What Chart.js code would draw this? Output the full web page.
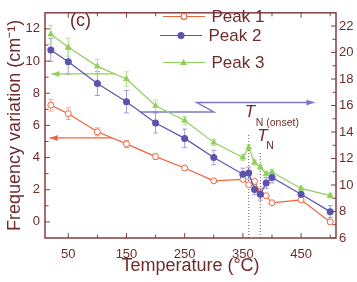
<!DOCTYPE html>
<html lang="en">
<head>
  <meta charset="UTF-8">
  <title>Frequency variation vs temperature</title>
  <script src="https://cdn.jsdelivr.net/npm/chart.js"></script>
  <style>
    body { margin: 0; background: #FFFFFF; }
    #grafico { display: block; }
  </style>
</head>
<body>
  <canvas id="grafico" width="357" height="282"></canvas>

  <script>
    // temperatures (°C)
    const temps = [20, 50, 100, 150, 200, 250, 300, 350, 360, 370, 380, 390, 400, 450, 500];
    // Peak 1 and Peak 3 on left axis, Peak 2 on right axis (cm-1)
    const peak1 = [7.26, 6.73, 5.6, 4.85, 4.06, 3.35, 2.55, 2.65, 2.31, 2.52, 1.75, 1.63, 1.19, 1.37, 0.0];
    const peak1Err = [0.36, 0.36, 0.25, 0.22, 0.18, 0.12, 0.08, 0.1, 0.1, 0.1, 0.08, 0.08, 0.08, 0.08, 0.08];
    const peak2 = [20.19, 19.3, 17.66, 16.29, 14.68, 13.52, 12.08, 10.82, 10.9, 9.67, 9.31, 10.15, 10.56, 9.31, 7.99];
    const peak2Err = [0.87, 0.94, 0.9, 0.85, 0.75, 0.7, 0.55, 0.45, 0.45, 0.4, 0.45, 0.4, 0.4, 0.35, 0.45];
    const peak3 = [11.66, 10.86, 9.67, 8.88, 7.22, 6.31, 4.93, 4.0, 4.62, 3.69, 3.4, 3.0, 3.1, 2.08, 1.63];
    const peak3Err = [0.55, 0.55, 0.45, 0.45, 0.35, 0.25, 0.2, 0.18, 0.18, 0.15, 0.15, 0.15, 0.15, 0.15, 0.15];

    // axis arrows (which axis each peak belongs to)
    const arrow1 = [[125, 5.22], [18, 5.22]];
    const arrow3 = [[130, 9.2], [21, 9.2]];
    const arrow2 = [[174, 15.52], [300, 15.52], [271, 16.22], [473, 16.22]];

    // Néel temperatures
    const tnOnset = 360;
    const tn = 380;

    const xTicks = [50, 100, 150, 200, 250, 300, 350, 400, 450, 500];
    const xTickLabels = [50, 150, 250, 350, 450];
    const yTicks = [0, 1, 2, 3, 4, 5, 6, 7, 8, 9, 10, 11, 12];
    const yTickLabels = [0, 2, 4, 6, 8, 10, 12];
    const y2Ticks = [6, 7, 8, 9, 10, 11, 12, 13, 14, 15, 16, 17, 18, 19, 20, 21, 22];
    const y2TickLabels = [6, 8, 10, 12, 14, 16, 18, 20, 22];

    const corTexto = "#6e2c2c";
    const corEixo = "#80403f";
    const laranja = "#f0643c";
    const roxo = "#5b53ad";
    const verde = "#8fd05c";

    const pts = (ys) => temps.map((t, i) => ({ x: t, y: ys[i] }));
    const seg = (arr) => arr.map(p => ({ x: p[0], y: p[1] }));

    Chart.defaults.font.family = "'Liberation Sans', Arial, sans-serif";
    Chart.defaults.color = corTexto;

    const extras = {
      id: "extras",
      beforeDatasetsDraw(chart) {
        const ctx = chart.ctx;
        const barras = [
          { idx: 2, err: peak1Err, cor: "#f6a48c" },
          { idx: 0, err: peak2Err, cor: "#a29cd6" },
          { idx: 1, err: peak3Err, cor: "#b9e29a" }
        ];
        ctx.save();
        ctx.lineWidth = 1;
        barras.forEach(b => {
          const meta = chart.getDatasetMeta(b.idx);
          const ys = chart.scales[meta.yAxisID];
          const xs = chart.scales.x;
          chart.data.datasets[b.idx].data.forEach((p, i) => {
            const x = xs.getPixelForValue(p.x);
            const y1 = ys.getPixelForValue(p.y + b.err[i]);
            const y2 = ys.getPixelForValue(p.y - b.err[i]);
            ctx.strokeStyle = b.cor;
            ctx.beginPath();
            ctx.moveTo(x, y1); ctx.lineTo(x, y2);
            ctx.moveTo(x - 2.5, y1); ctx.lineTo(x + 2.5, y1);
            ctx.moveTo(x - 2.5, y2); ctx.lineTo(x + 2.5, y2);
            ctx.stroke();
          });
        });
        ctx.restore();
      },
      afterDatasetsDraw(chart) {
        const ctx = chart.ctx;
        // arrow heads
        [3, 4, 5].forEach(idx => {
          const meta = chart.getDatasetMeta(idx);
          const n = meta.data.length;
          const a = meta.data[n - 2], b = meta.data[n - 1];
          const ang = Math.atan2(b.y - a.y, b.x - a.x);
          ctx.save();
          ctx.translate(b.x, b.y);
          ctx.rotate(ang);
          ctx.fillStyle = chart.data.datasets[idx].borderColor;
          ctx.beginPath();
          ctx.moveTo(0, 0);
          ctx.lineTo(-8, -3);
          ctx.lineTo(-8, 3);
          ctx.closePath();
          ctx.fill();
          ctx.restore();
        });
      },
      afterDraw(chart) {
        const ctx = chart.ctx;
        const { left, right, top, bottom } = chart.chartArea;
        const { x, y, y2 } = chart.scales;
        ctx.save();
        // frame
        ctx.strokeStyle = corEixo;
        ctx.lineWidth = 1.5;
        ctx.strokeRect(left, top, right - left, bottom - top);
        // inward ticks
        ctx.lineWidth = 1;
        ctx.beginPath();
        xTicks.forEach(v => {
          const px = x.getPixelForValue(v);
          const l = xTickLabels.includes(v) ? 5 : 3.5;
          ctx.moveTo(px, bottom); ctx.lineTo(px, bottom - l);
          ctx.moveTo(px, top); ctx.lineTo(px, top + l);
        });
        yTicks.forEach(v => {
          const py = y.getPixelForValue(v);
          const l = yTickLabels.includes(v) ? 5 : 3.5;
          ctx.moveTo(left, py); ctx.lineTo(left + l, py);
        });
        y2Ticks.forEach(v => {
          const py = y2.getPixelForValue(v);
          const l = y2TickLabels.includes(v) ? 5 : 3.5;
          ctx.moveTo(right, py); ctx.lineTo(right - l, py);
        });
        ctx.stroke();

        // legend
        const itens = [
          { nome: "Peak 1", cor: laranja, y: 16.5, x0: 163, x1: 205, mk: 184, tx: 211.5, tipo: "aberto" },
          { nome: "Peak 2", cor: roxo, y: 35.5, x0: 160, x1: 202, mk: 181, tx: 208.5, tipo: "cheio" },
          { nome: "Peak 3", cor: verde, y: 62.5, x0: 163, x1: 205, mk: 183.5, tx: 211.5, tipo: "tri" }
        ];
        itens.forEach(it => {
          ctx.strokeStyle = it.cor;
          ctx.lineWidth = 1.2;
          ctx.beginPath();
          ctx.moveTo(it.x0, it.y); ctx.lineTo(it.x1, it.y);
          ctx.stroke();
          ctx.fillStyle = it.cor;
          ctx.beginPath();
          if (it.tipo === "tri") {
            ctx.moveTo(it.mk, it.y - 3.5);
            ctx.lineTo(it.mk + 3.5, it.y + 2.5);
            ctx.lineTo(it.mk - 3.5, it.y + 2.5);
            ctx.closePath();
            ctx.fill();
          } else if (it.tipo === "cheio") {
            ctx.arc(it.mk, it.y, 3.5, 0, Math.PI * 2);
            ctx.fill();
          } else {
            ctx.fillStyle = "#fff";
            ctx.arc(it.mk, it.y, 3, 0, Math.PI * 2);
            ctx.fill();
            ctx.stroke();
          }
          ctx.fillStyle = corTexto;
          ctx.font = "17px 'Liberation Sans', Arial, sans-serif";
          ctx.textBaseline = "middle";
          ctx.textAlign = "left";
          ctx.fillText(it.nome, it.tx, it.y + 0.5);
        });

        // panel label
        ctx.font = "18px 'Liberation Sans', Arial, sans-serif";
        ctx.textBaseline = "middle";
        ctx.fillText("(c)", 70, 21.5);

        // T_N labels
        const xo = x.getPixelForValue(tnOnset);
        const xn = x.getPixelForValue(tn);
        ctx.textBaseline = "alphabetic";
        ctx.font = "italic 17px 'Liberation Sans', Arial, sans-serif";
        ctx.fillText("T", xo - 4, 117);
        ctx.fillText("T", xn - 3, 141);
        ctx.font = "10.5px 'Liberation Sans', Arial, sans-serif";
        ctx.fillText("N (onset)", xo + 7, 125.5);
        ctx.fillText("N", xn + 6, 149);
        ctx.restore();
      }
    };

    const ticksFixos = (lista) => (scale) => { scale.ticks = lista.map(v => ({ value: v })); };

    new Chart(document.getElementById("grafico"), {
      type: "line",
      data: {
        datasets: [
          {
            label: "Peak 2", data: pts(peak2), yAxisID: "y2",
            borderColor: roxo, backgroundColor: roxo, borderWidth: 1.2,
            pointRadius: 3.5, pointStyle: "circle", pointBorderWidth: 0
          },
          {
            label: "Peak 3", data: pts(peak3), yAxisID: "y",
            borderColor: verde, backgroundColor: verde, borderWidth: 1.2,
            pointRadius: 4, pointStyle: "triangle", pointBorderWidth: 0
          },
          {
            label: "Peak 1", data: pts(peak1), yAxisID: "y",
            borderColor: laranja, backgroundColor: "#FFFFFF", borderWidth: 1.2,
            pointRadius: 3, pointStyle: "circle", pointBorderWidth: 1
          },
          { label: "a1", data: seg(arrow1), yAxisID: "y", borderColor: laranja, borderWidth: 1.2, pointRadius: 0 },
          { label: "a2", data: seg(arrow2), yAxisID: "y2", borderColor: "#7e77c9", borderWidth: 1.5, pointRadius: 0 },
          { label: "a3", data: seg(arrow3), yAxisID: "y", borderColor: verde, borderWidth: 1.2, pointRadius: 0 },
          {
            label: "tn1", data: [{ x: tnOnset, y: -1 }, { x: tnOnset, y: 5.5 }], yAxisID: "y",
            borderColor: "#8a5050", borderWidth: 1, borderDash: [1, 2], pointRadius: 0
          },
          {
            label: "tn2", data: [{ x: tn, y: -1 }, { x: tn, y: 4.4 }], yAxisID: "y",
            borderColor: "#8a5050", borderWidth: 1, borderDash: [1, 2], pointRadius: 0
          }
        ]
      },
      options: {
        responsive: false,
        animation: false,
        devicePixelRatio: 1,
        layout: { padding: { top: 2, left: 0, right: 0, bottom: 0 } },
        plugins: { legend: { display: false }, tooltip: { enabled: false } },
        scales: {
          x: {
            type: "linear", min: 10, max: 510,
            grid: { display: false, drawTicks: false },
            border: { display: false },
            afterBuildTicks: ticksFixos(xTicks),
            afterFit: (s) => { s.height = 44; },
            ticks: {
              padding: 9, font: { size: 13 }, color: corTexto, maxRotation: 0,
              callback: (v) => xTickLabels.includes(v) ? String(v) : ""
            },
            title: {
              display: true, text: "Temperature (°C)", color: corTexto,
              font: { size: 18 }, padding: { top: 0, bottom: 5 }
            }
          },
          y: {
            type: "linear", position: "left", min: -1, max: 13,
            grid: { display: false, drawTicks: false },
            border: { display: false },
            afterBuildTicks: ticksFixos(yTicks),
            afterFit: (s) => { s.width = 45; },
            ticks: {
              padding: 5, font: { size: 13 }, color: corTexto,
              callback: (v) => yTickLabels.includes(v) ? String(v) : ""
            },
            title: {
              display: true, text: "Frequency variation (cm⁻¹)", color: corTexto,
              font: { size: 18 }, padding: { top: 4, bottom: 0 }
            }
          },
          y2: {
            type: "linear", position: "right", min: 6, max: 23,
            grid: { display: false, drawTicks: false },
            border: { display: false },
            afterBuildTicks: ticksFixos(y2Ticks),
            afterFit: (s) => { s.width = 21; },
            ticks: {
              padding: 3, font: { size: 13 }, color: corTexto,
              callback: (v) => y2TickLabels.includes(v) ? String(v) : ""
            }
          }
        }
      },
      plugins: [extras]
    });
  </script>
</body>
</html>
